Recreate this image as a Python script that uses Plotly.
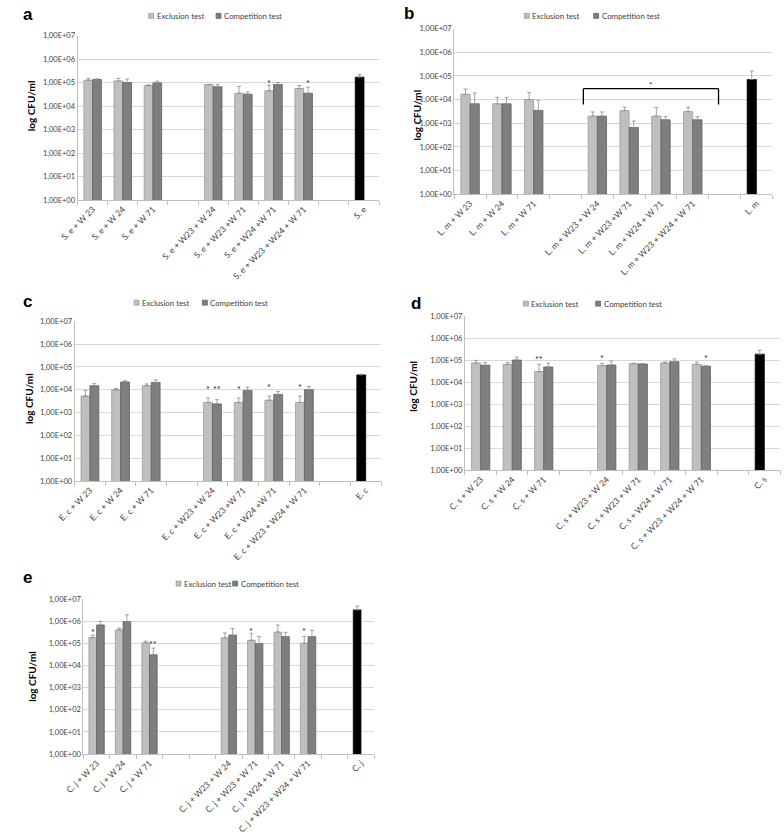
import math
import plotly.graph_objects as go
from plotly.subplots import make_subplots

W, H = 784, 834
FONT = "Lato"

# ---- data (CFU/ml); None = empty slot ----
A_LABELS = ["S. e + W 23", "S. e + W 24", "S. e + W 71", "", "S. e + W23 + W 24", "S. e + W23 +W 71",
            "S. e + W24 +W 71", "S. e + W23 + W24 + W 71", "", "S. e"]
A_EXCL = [1.25e5, 1.17e5, 7.5e4, None, 8.2e4, 3.5e4, 4.5e4, 5.6e4, None, None]
A_EXCL_TOP = [1.5e5, 1.5e5, 8.0e4, None, 8.4e4, 7.0e4, 7.7e4, 7.5e4, None, None]
A_COMP = [1.35e5, 1.0e5, 9.7e4, None, 6.6e4, 3.2e4, 8.2e4, 3.5e4, None, None]
A_COMP_TOP = [1.45e5, 1.4e5, 1.15e5, None, 8.2e4, 4.0e4, 1.0e5, 6.4e4, None, None]
A_CTRL, A_CTRL_TOP = 1.7e5, 2.2e5
A_STARS = [(6, "excl", "*", 1.15e5), (7, "comp", "*", 1.15e5)]

B_LABELS = ["L. m + W 23", "L. m + W 24", "L. m + W 71", "", "L. m + W23 + W 24", "L. m + W23 +W 71",
            "L. m + W24 + W 71", "L. m + W23 + W24 + W 71", "", "L. m"]
B_EXCL = [1.67e4, 6.6e3, 1.0e4, None, 2.0e3, 3.4e3, 2.0e3, 3.1e3, None, None]
B_EXCL_TOP = [2.8e4, 1.25e4, 2.0e4, None, 3.0e3, 4.8e3, 4.6e3, 4.8e3, None, None]
B_COMP = [6.6e3, 6.6e3, 3.5e3, None, 2.0e3, 6.6e2, 1.4e3, 1.4e3, None, None]
B_COMP_TOP = [1.9e4, 1.25e4, 9.4e3, None, 3.0e3, 1.25e3, 1.9e3, 1.9e3, None, None]
B_CTRL, B_CTRL_TOP = 7.0e4, 1.6e5
B_STARS = []
B_BRACKET = (3.56, 7.81, 2.9e4, 6.2e3, 4.2e4)  # x from, x to, top, feet, star height

C_LABELS = ["E. c + W 23", "E. c + W 24", "E. c + W 71", "", "E. c + W23 + W 24", "E. c + W23 +W 71",
            "E. c + W24 +W 71", "E. c + W23 + W24 + W 71", "", "E. c"]
C_EXCL = [5.3e3, 1.0e4, 1.5e4, None, 2.8e3, 2.8e3, 3.5e3, 2.8e3, None, None]
C_EXCL_TOP = [9.4e3, 1.15e4, 1.8e4, None, 4.4e3, 4.4e3, 5.3e3, 5.3e3, None, None]
C_COMP = [1.5e4, 2.2e4, 2.1e4, None, 2.4e3, 9.4e3, 6.3e3, 1.0e4, None, None]
C_COMP_TOP = [1.9e4, 2.5e4, 2.7e4, None, 3.7e3, 1.3e4, 8.5e3, 1.4e4, None, None]
C_CTRL, C_CTRL_TOP = 4.5e4, 4.8e4
C_STARS = [(4, "excl", "*", 1.3e4), (4, "comp", "**", 1.3e4), (5, "excl", "*", 1.3e4),
           (6, "excl", "*", 1.6e4), (7, "excl", "*", 1.5e4)]

D_LABELS = ["C. s + W 23", "C. s + W 24", "C. s + W 71", "", "C. s + W23 + W 24", "C. s + W23 + W 71",
            "C. s + W24 + W 71", "C. s + W23 + W24 + W 71", "", "C. s"]
D_EXCL = [7.6e4, 6.6e4, 3.1e4, None, 5.8e4, 7.1e4, 7.6e4, 6.6e4, None, None]
D_EXCL_TOP = [1.0e5, 8.1e4, 6.6e4, None, 7.3e4, 7.3e4, 8.4e4, 8.4e4, None, None]
D_COMP = [6.0e4, 1.03e5, 5.0e4, None, 6.1e4, 6.8e4, 8.7e4, 5.4e4, None, None]
D_COMP_TOP = [8.1e4, 1.4e5, 7.6e4, None, 9.3e4, 7.0e4, 1.18e5, 5.7e4, None, None]
D_CTRL, D_CTRL_TOP = 1.9e5, 2.9e5
D_STARS = [(2, "excl", "**", 1.3e5), (4, "excl", "*", 1.45e5), (7, "comp", "*", 1.45e5)]

E_LABELS = ["C. j + W 23", "C. j + W 24", "C. j + W 71", "", "", "C. j + W23 + W 24", "C. j + W23 + W 71",
            "C. j + W24 + W 71", "C. j + W23 + W24 + W 71", "", "C. j"]
E_EXCL = [1.85e5, 4.1e5, 1.07e5, None, None, 1.8e5, 1.4e5, 3.3e5, 1.03e5, None, None]
E_EXCL_TOP = [2.4e5, 5.0e5, 1.27e5, None, None, 3.0e5, 2.9e5, 6.9e5, 2.1e5, None, None]
E_COMP = [6.9e5, 9.7e5, 3.1e4, None, None, 2.4e5, 1.0e5, 2.05e5, 2.05e5, None, None]
E_COMP_TOP = [1.0e6, 2.0e6, 6.2e4, None, None, 4.8e5, 2.1e5, 3.2e5, 4.0e5, None, None]
E_CTRL, E_CTRL_TOP = 3.3e6, 5.0e6
E_STARS = [(0, "excl", "*", 3.7e5), (2, "comp", "**", 1.07e5), (6, "excl", "*", 4.5e5), (8, "excl", "*", 4.5e5)]

Y_TICKS = [10 ** k for k in range(8)]

# ---- layout in pixels: plot box (left, top, right, bottom), letter, y-title, legend ----
PANELS = [
    dict(letter="a", labels=A_LABELS, excl=A_EXCL, excl_top=A_EXCL_TOP, comp=A_COMP, comp_top=A_COMP_TOP,
         ctrl=A_CTRL, ctrl_top=A_CTRL_TOP, stars=A_STARS, box=(60, 32, 369, 199), let_xy=(2, 11),
         title_xy=(12, 103), leg=(133, 202, 12)),
    dict(letter="b", labels=B_LABELS, excl=B_EXCL, excl_top=B_EXCL_TOP, comp=B_COMP, comp_top=B_COMP_TOP,
         ctrl=B_CTRL, ctrl_top=B_CTRL_TOP, stars=B_STARS, box=(446, 25, 772, 193), let_xy=(393, 10),
         title_xy=(408, 113), leg=(518, 589, 12)),
    dict(letter="c", labels=C_LABELS, excl=C_EXCL, excl_top=C_EXCL_TOP, comp=C_COMP, comp_top=C_COMP_TOP,
         ctrl=C_CTRL, ctrl_top=C_CTRL_TOP, stars=C_STARS, box=(57, 322, 371, 484), let_xy=(2, 302),
         title_xy=(11, 400), leg=(118, 188, 303)),
    dict(letter="d", labels=D_LABELS, excl=D_EXCL, excl_top=D_EXCL_TOP, comp=D_COMP, comp_top=D_COMP_TOP,
         ctrl=D_CTRL, ctrl_top=D_CTRL_TOP, stars=D_STARS, box=(457, 317, 780, 473), let_xy=(400, 304),
         title_xy=(404, 388), leg=(517, 591, 304)),
    dict(letter="e", labels=E_LABELS, excl=E_EXCL, excl_top=E_EXCL_TOP, comp=E_COMP, comp_top=E_COMP_TOP,
         ctrl=E_CTRL, ctrl_top=E_CTRL_TOP, stars=E_STARS, box=(66, 604, 364, 761), let_xy=(2, 582),
         title_xy=(14, 682), leg=(161, 219, 588)),
]

EXCL_COLOR, EXCL_LINE = "#bfbfbf", "#9a9a9a"
COMP_COLOR, COMP_LINE = "#7f7f7f", "#606060"
BAR_W = 0.29


def px(x):
    return x / W


def py(y):
    return 1 - y / H


def up_err(vals, tops):
    return [(t - v) if v is not None else None for v, t in zip(vals, tops)]


fig = make_subplots(rows=3, cols=2, specs=[[{}, {}], [{}, {}], [{}, None]])
cells = [(1, 1), (1, 2), (2, 1), (2, 2), (3, 1)]

for n, (p, (r, c)) in enumerate(zip(PANELS, cells), start=1):
    sfx = str(n) if n > 1 else ""
    idx = list(range(len(p["labels"])))
    for name, vals, tops, off, fc, lc in [
        ("Exclusion test", p["excl"], p["excl_top"], -BAR_W, EXCL_COLOR, EXCL_LINE),
        ("Competition test", p["comp"], p["comp_top"], 0, COMP_COLOR, COMP_LINE),
    ]:
        fig.add_trace(go.Bar(
            x=idx, y=vals, name=name, width=BAR_W, offset=off, showlegend=False,
            marker=dict(color=fc, line=dict(color=lc, width=0.8)),
            error_y=dict(type="data", symmetric=False, array=up_err(vals, tops),
                         arrayminus=[0] * len(vals), color="#8c8c8c", thickness=0.8, width=2),
        ), row=r, col=c)
    # control bar (pathogen alone), drawn in black
    ci = idx[-1]
    fig.add_trace(go.Bar(
        x=[ci], y=[p["ctrl"]], width=BAR_W, offset=-BAR_W, showlegend=False,
        marker=dict(color="black", line=dict(color="black", width=0.8)),
        error_y=dict(type="data", symmetric=False, array=[p["ctrl_top"] - p["ctrl"]], arrayminus=[0],
                     color="#8c8c8c", thickness=0.8, width=2),
    ), row=r, col=c)

    # significance stars
    for i, which, txt, yv in p["stars"]:
        fig.add_annotation(x=i + (-BAR_W / 2 if which == "excl" else BAR_W / 2), y=math.log10(yv),
                           xref="x" + sfx, yref="y" + sfx, text=txt, showarrow=False, yshift=-2,
                           font=dict(family=FONT, size=9, color="#222222"))

    l, t, rgt, b = p["box"]
    ax = dict(domain=[px(l), px(rgt)], range=[-0.5, len(idx) - 0.5], anchor="y" + sfx,
              tickmode="array", tickvals=[i for i in idx if p["labels"][i]],
              ticktext=[s for s in p["labels"] if s], tickangle=-45, ticks="",
              tickfont=dict(family=FONT, size=8.5, color="#404040"),
              showline=True, linecolor="#bfbfbf", linewidth=1, showgrid=False, zeroline=False,
              minor=dict(tick0=0.5, dtick=1, ticks="outside", ticklen=4, tickcolor="#bfbfbf", showgrid=False))
    ay = dict(domain=[py(b), py(t)], type="log", range=[0, 7], anchor="x" + sfx,
              tickmode="array", tickvals=Y_TICKS, ticktext=[f"1,00E+{k:02d}" for k in range(8)],
              tickfont=dict(family=FONT, size=7.5, color="#404040"), ticks="",
              showgrid=True, gridcolor="#d9d9d9", gridwidth=1, zeroline=False,
              showline=True, linecolor="#bfbfbf", linewidth=1)
    fig.layout["xaxis" + sfx].update(ax)
    fig.layout["yaxis" + sfx].update(ay)

    # panel letter and y-axis title
    lx, ly = p["let_xy"]
    fig.add_annotation(x=px(lx), y=py(ly), xref="paper", yref="paper", xanchor="left", yanchor="middle",
                       text=f"<b>{p['letter']}</b>", showarrow=False,
                       font=dict(family="Liberation Sans", size=17, color="black"))
    tx, ty = p["title_xy"]
    fig.add_annotation(x=px(tx), y=py(ty), xref="paper", yref="paper", xanchor="center", yanchor="middle",
                       text="<b>log CFU/ml</b>", textangle=-90, showarrow=False,
                       font=dict(family=FONT, size=10, color="black"))

    # legend: small swatches with text
    s1, s2, lyy = p["leg"]
    for sx, txt, fc, lc in [(s1, "Exclusion test", EXCL_COLOR, EXCL_LINE),
                            (s2, "Competition test", COMP_COLOR, COMP_LINE)]:
        fig.add_shape(type="rect", xref="paper", yref="paper", x0=px(sx), x1=px(sx + 5),
                      y0=py(lyy + 2.5), y1=py(lyy - 2.5), fillcolor=fc, line=dict(color=lc, width=0.8))
        fig.add_annotation(x=px(sx + 6), y=py(lyy), xref="paper", yref="paper", xanchor="left",
                           yanchor="middle", text=txt, showarrow=False,
                           font=dict(family=FONT, size=7.8, color="#404040"))

# bracket over the combination groups in panel b
bx0, bx1, btop, bfoot, bstar = B_BRACKET
for x0, y0, x1, y1 in [(bx0, bfoot, bx0, btop), (bx0, btop, bx1, btop), (bx1, btop, bx1, bfoot)]:
    fig.add_shape(type="line", xref="x2", yref="y2", x0=x0, x1=x1, y0=y0, y1=y1,
                  line=dict(color="black", width=1.3))
fig.add_annotation(x=(bx0 + bx1) / 2, y=math.log10(bstar), xref="x2", yref="y2", text="*",
                   showarrow=False, font=dict(family=FONT, size=8, color="#222222"))

fig.update_layout(width=W, height=H, margin=dict(l=0, r=0, t=0, b=0), barmode="overlay",
                  plot_bgcolor="white", paper_bgcolor="white", font=dict(family=FONT))
# page body has a default 8px margin; drop it so the figure sits at the window origin
fig.write_html("out.html", config={"displayModeBar": False},
               post_script="document.body.style.margin='0';")
